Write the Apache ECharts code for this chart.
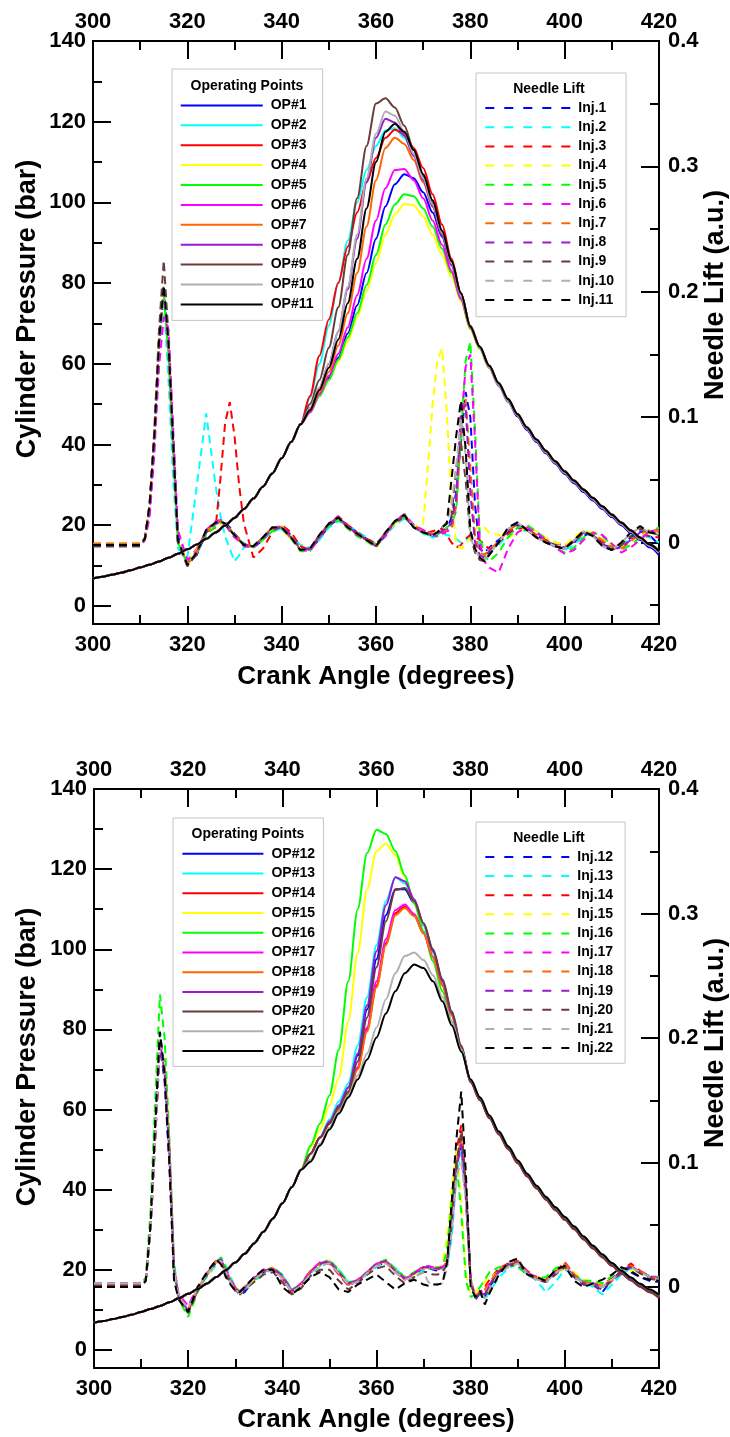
<!DOCTYPE html>
<html><head><meta charset="utf-8">
<script src="https://cdn.jsdelivr.net/npm/echarts@6/dist/echarts.min.js"></script>
<style>html,body{margin:0;padding:0;background:#fff}#c{width:730px;height:1437px}</style>
</head><body><div id="c"></div>
<script>
// ---------- axes / ticks ----------
const xTicks = [300, 320, 340, 360, 380, 400, 420];
const pressureTicks = [0, 20, 40, 60, 80, 100, 120, 140];
const pressureMinor = [10, 30, 50, 70, 90, 110, 130];
const needleTicks = [0, 0.1, 0.2, 0.3, 0.4];
const needleMinor = [-0.05, 0.05, 0.15, 0.25, 0.35];

// ---------- crank angle grids ----------
const crankP = [300,302,304,306,308,310,312,314,316,318,320,322,324,326,328,330,332,334,336,338,340,342,344,
  346,348,350,352,354,356,358,360,362,364,366,368,370,372,374,376,378,380,382,384,386,388,390,392,394,396,398,400,402,404,406,408,410,412,414,416,418,420];
const crankNL = [300,302,304,306,308,310,311,312,313,314,315,316,317,318,320,322,324,326,327,328,329,330,331,
  332,334,336,338,340,342,344,346,348,350,352,354,356,358,360,362,364,366,368,370,
  371,372,373,374,375,376,377,378,379,380,381,382,383,384,
  386,388,390,392,394,396,398,400,402,404,406,408,410,412,414,416,418,420];

// ---------- cylinder pressure (bar): shared compression 300..344 ----------
const compressionP = [6.8,7.2,7.7,8.2,8.8,9.5,10.2,11.0,11.9,12.9,14.0,15.2,16.6,18.2,19.9,21.8,24.0,26.6,29.5,32.8,36.6,40.6,45.0];

// per operating point, 346..420 (step 2)
const op1  = [48,52,56.5,61.5,67.5,74.5,82.5,91,99,104.5,107,106,102.5,97.5,91.5,84.5,77, 69,63.8,59,54.6,50.6,46.9,43.6,40.6,37.8,35.2,32.7,30.4,28.2,26.1,24,22,20,18.1,16.3,14.5,12.6];
const op2  = [51.5,60,69.5,80,90.5,100,108,114,117.8,118.4,116,112,106.5,100,92.5,84.5,76.5, 69,64,59.3,55,51,47.3,44,41,38.2,35.6,33.1,30.8,28.6,26.5,24.4,22.4,20.4,18.5,16.7,15,13.3];
const op3  = [52,62,71,80,89,97.5,105,111,116,118,117,113.5,108.5,102,94.5,86,77.5, 69.5,64.3,59.5,55.2,51.2,47.5,44.2,41.2,38.4,35.8,33.3,31,28.8,26.7,24.6,22.6,20.6,18.7,16.9,15.2,13.5];
const op4  = [48,52,56,60.5,65.5,71.5,78,85,92,97,99.6,99.3,96.5,92,87,81.5,75.5, 68.5,63.6,59,54.8,50.8,47.2,43.9,40.9,38.1,35.5,33,30.7,28.5,26.4,24.3,22.3,20.3,18.4,16.6,14.9,13.2];
const op5  = [48,52,56,61,66.5,72.5,79.5,87,94.5,99.5,102,101.5,98.5,94,88.5,82.5,76, 68.7,63.8,59.2,55,51,47.4,44.1,41.1,38.3,35.7,33.2,30.9,28.7,26.6,24.5,22.5,20.5,18.6,16.8,15.1,13.4];
const op6  = [48,52.5,57,62.5,69,77,86,95.5,103.5,108,108.3,105.5,101,95.5,89.5,83,76, 69,64,59.3,55,51,47.3,44,41,38.2,35.6,33.1,30.8,28.6,26.5,24.4,22.4,20.4,18.5,16.7,15,13.3];
const op7  = [48.5,53,58,64.5,72.5,82.5,94,105.5,113.5,116,114.5,110.5,105,99,92,84.5,77, 69,64,59.3,55,51,47.3,44,41,38.2,35.6,33.1,30.8,28.6,26.5,24.4,22.4,20.4,18.5,16.7,15,13.3];
const op8  = [49,54,60,68,78.5,91,105,116,120.7,119.8,116.5,111.5,105.5,99,92,84.5,77, 69,64,59.3,55,51,47.3,44,41,38.2,35.6,33.1,30.8,28.6,26.5,24.4,22.4,20.4,18.5,16.7,15,13.3];
const op9  = [50,56,64,74,87,101,114,124.5,125.8,123.5,119,113,106.5,100,93,85.5,77.5, 69.3,64.3,59.6,55.3,51.3,47.6,44.3,41.3,38.5,35.9,33.4,31.1,28.9,26.8,24.7,22.7,20.7,18.8,17,15.3,13.6];
const op10 = [49,54,60,68,79,92,106,117,122.5,121.5,117.5,112,106,99.5,92.5,85,77, 69,64,59.3,55,51,47.3,44,41,38.2,35.6,33.1,30.8,28.6,26.5,24.4,22.4,20.4,18.5,16.7,15,13.3];
const op11 = [48.5,53.5,59,66,75,86,98.5,110,117.5,119.4,117.5,113,107,100.5,93,85.5,77.5, 69.2,64.2,59.5,55.2,51.2,47.5,44.2,41.2,38.4,35.8,33.3,31,28.8,26.7,24.6,22.6,20.6,18.7,16.9,15.2,13.5];

const op12 = [49,53,57,61,65.5,73.5,85,97.5,108.5,115,115,111.5,106,99.5,92,84,75.5, 67,62.5,58,54,50.3,46.8,43.5,40.5,37.7,35.1,32.7,30.3,27.8,25.5,23.3,21.2,19.3,17.6,16,14.6,13.2];
const op13 = [49,53,57.5,62,66.5,76,88,101,112,118,116.5,112,106,99,91.5,83.5,75, 67,62.5,58,54,50.3,46.8,43.5,40.5,37.7,35.1,32.7,30.3,27.8,25.5,23.3,21.2,19.3,17.6,16,14.6,13.2];
const op14 = [49,53,56.5,60,64,70.5,80,91,101.5,109,110.7,108.5,104,98,91,83.5,75.5, 66.8,62.3,57.8,53.8,50.1,46.6,43.3,40.3,37.5,34.9,32.5,30.1,27.6,25.3,23.1,21,19.1,17.4,15.8,14.4,13];
const op15 = [50.5,55,61,68,82,99,115,124.5,126.4,123.5,118,111.5,104.5,97,89.5,82,74.5, 67.2,62.7,58.2,54.2,50.5,47,43.7,40.7,37.9,35.3,32.9,30.5,28,25.7,23.5,21.4,19.5,17.8,16.2,14.8,13.4];
const op16 = [51,56.5,63.5,75,92,110,124,129.8,128.8,124.5,118.5,111.5,104.5,97,89.5,82,74.5, 67.5,63,58.5,54.5,50.8,47.3,44,41,38.2,35.6,33.2,30.8,28.3,26,23.8,21.7,19.8,18.1,16.5,15.1,13.7];
const op17 = [49,53,56.5,60,64,70.5,80.5,92,102.5,109.8,111.2,108.8,104,98,91,83.5,75.5, 67,62.5,58,54,50.3,46.8,43.5,40.5,37.7,35.1,32.7,30.3,27.8,25.5,23.3,21.2,19.3,17.6,16,14.6,13.2];
const op18 = [49,53,56.5,60,64,70,79.5,90.5,101,108.5,110.3,108.3,104,98,91,83.5,75.5, 67,62.5,58,54,50.3,46.8,43.5,40.5,37.7,35.1,32.7,30.3,27.8,25.5,23.3,21.2,19.3,17.6,16,14.6,13.2];
const op19 = [49,53,57,61,65.5,74,86,99.5,111,118,117,112.5,106.5,99.5,92,84,75.5, 67,62.5,58,54,50.3,46.8,43.5,40.5,37.7,35.1,32.7,30.3,27.8,25.5,23.3,21.2,19.3,17.6,16,14.6,13.2];
const op20 = [49,53,56.5,60.5,64.5,72,83,95.5,107,114.8,115.3,112,106.5,100,92.5,84.5,76, 66.8,62.3,57.8,53.8,50.1,46.6,43.3,40.3,37.5,34.9,32.5,30.1,27.6,25.3,23.1,21,19.1,17.4,15.8,14.4,13];
const op21 = [47.5,51.5,55.5,59.5,63.5,68.5,74,80.5,87.5,94,98.3,99.2,97.3,93.5,88,81.8,75, 67.5,63,58.5,54.5,50.8,47.3,44,41,38.2,35.6,33.2,30.8,28.3,26,23.8,21.7,19.8,18.1,16.5,15.1,13.7];
const op22 = [47,51,55,59,63,67.5,72.5,78,84,89.5,94,96.2,95.3,92,87,81,74.5, 67.5,63,58.5,54.5,50.8,47.3,44,41,38.2,35.6,33.2,30.8,28.3,26,23.8,21.7,19.8,18.1,16.5,15.1,13.7];

// ---------- needle lift (milli a.u.), on crankNL ----------
const inj1  = [-3,-3,-3,-3,-3,-3, 2,25,80,155,200,165,85,5, -16,-10,8,15, 17,16,12,7,3, -1,-4,2,10,13,6,-4,-6,3,13,19,14,8,3,-2,5,15,21,14,9, 7,5,6,8,10,20,40,80,120,100,30,-5,-8,-4, 2,8,14,11,6,1,-2,-4,0,6,6,0,-5,-3,4,9,6,-2];
const inj2  = [-2,-2,-2,-2,-2,-2, 3,28,80,150,195,130,50,-5, -12,45,103,45, 22,5,-5,-15,-10, -4,-2,3,9,11,5,-2,-4,2,12,17,14,9,4,-1,6,14,19,13,7, 5,4,5,7,6,5,3,0,2,4,3,-1,-4,-6, -2,6,11,9,5,0,-3,-6,-2,5,7,1,-4,-2,3,6,4,0];
const inj3  = [-1,-1,-1,-1,-1,-1, 4,30,85,160,200,150,70,0, -15,-5,8,12, 50,95,112,85,45, 15,-12,-5,8,14,8,-3,-6,4,14,21,14,8,3,-1,7,16,20,14,9, 8,9,10,11,6,0,-4,-2,3,6,5,2,-2,-5, 0,7,12,10,6,2,0,-3,2,8,6,1,-3,-5,2,7,5,4];
const inj4  = [-2,-2,-2,-2,-2,-2, 2,28,82,158,200,155,75,2, -14,-6,9,14, 15,14,10,5,1, -2,-3,3,11,13,5,-5,-6,5,14,19,12,6,1,-4,6,15,21,13,15, 60,110,145,155,105,30,0,-5,-2,4,10,14,12,8, 6,4,8,12,9,4,0,-2,4,10,7,2,-2,-4,1,5,10,11];
const inj5  = [-1,-1,-1,-1,-1,-1, 3,30,85,158,198,150,72,0, -17,-9,6,13, 16,15,11,6,2, -1,-4,2,9,11,3,-7,-7,4,13,18,11,5,1,-4,7,16,20,12,8, 6,5,6,9,12,15,25,85,145,160,90,5,-10,-15, -8,4,12,14,9,3,-4,-8,-4,4,8,5,-2,-6,-2,4,8,12];
const inj6  = [-2,-2,-2,-2,-2,-2, 2,20,70,140,180,170,90,10, -14,-7,10,17, 18,15,9,4,1, -3,-4,4,12,13,5,-6,-7,4,15,21,13,6,2,-3,6,17,23,14,10, 8,6,5,7,9,10,30,90,140,150,80,0,-15,-20, -24,-5,8,12,8,2,-4,-9,-6,2,8,6,-1,-8,-4,2,9,10];
const inj7  = [-1,-1,-1,-1,-1,-1, 3,30,85,162,205,160,78,2, -17,-8,9,15, 17,15,11,7,3, -2,-3,4,12,12,3,-5,-5,6,15,20,12,7,2,-2,8,17,22,13,9, 8,7,7,9,10,12,30,90,115,60,5,-8,-10,-6, 1,9,15,11,5,1,-3,-4,1,7,7,2,-4,-5,1,7,10,9];
const inj8  = [-2,-2,-2,-2,-2,-2, 3,30,85,160,205,158,78,2, -18,-9,9,15, 16,14,10,6,2, -2,-3,3,11,12,5,-5,-5,5,14,20,13,7,2,-3,7,17,21,12,8, 7,6,7,9,12,15,35,105,110,40,0,-10,-12,-7, 0,10,15,10,4,0,-3,-5,1,8,6,-1,-5,-4,2,8,9,8];
const inj9  = [-3,-3,-3,-3,-3,-3, 3,30,90,170,225,165,80,0, -19,-9,10,16, 17,15,10,6,2, -2,-3,4,12,12,4,-6,-5,6,15,20,12,7,2,-3,8,17,22,12,8, 7,6,8,12,16,20,60,80,50,5,-8,-14,-15,-9, 0,11,16,10,4,0,-3,-5,1,9,5,-2,-6,-2,5,11,8,6];
const inj10 = [-2,-2,-2,-2,-2,-2, 3,30,85,160,205,160,80,2, -18,-8,10,16, 17,15,10,6,2, -2,-3,4,12,12,4,-6,-5,6,15,20,12,7,2,-3,8,17,23,13,8, 7,6,8,12,15,30,60,100,70,5,-6,-12,-14,-9, 0,11,16,10,4,0,-3,-5,2,9,5,-3,-6,0,7,12,8,7];
const inj11 = [-2,-2,-2,-2,-2,-2, 3,30,85,160,205,160,80,2, -18,-8,10,16, 17,15,10,6,2, -2,-3,4,12,12,4,-6,-5,6,15,20,12,7,2,-3,8,17,22,12,8, 7,6,8,12,15,50,85,113,75,10,-5,-12,-15,-10, 0,12,16,10,4,0,-3,-5,2,9,5,-3,-6,0,8,13,8,7];

const inj12 = [2,2,2,2,2,2, 5,45,120,195,165,100,10,-8, -18,-2,10,20, 22,12,4,-2,-6, -4,6,12,15,8,-4,2,12,18,20,12,2,4,11,17,20,14,6,10,14, 15,14,13,15,18,45,95,115,70,5,-10,-5,-8,0, 12,18,17,10,6,4,13,16,8,2,2,-4,6,14,12,8,5,4];
const inj13 = [2,2,2,2,2,2, 5,48,125,205,175,110,15,-8, -16,0,8,18, 23,17,8,0,-4, -2,4,11,14,10,-2,0,10,17,21,14,4,3,10,16,21,15,8,8,14, 15,15,14,15,17,40,90,110,75,8,-8,-6,-10,-4, 8,15,19,12,5,-4,4,14,10,4,0,-6,2,10,15,12,8,5];
const inj14 = [2,2,2,2,2,2, 6,50,125,200,170,110,12,-10, -20,-3,11,22, 20,10,3,-3,-5, 0,7,13,15,7,-4,3,13,19,19,10,1,5,12,18,21,13,6,11,16, 16,15,14,16,22,60,110,130,80,5,-8,-4,0,6, 15,19,21,13,8,6,12,20,10,4,4,2,7,12,19,13,8,6];
const inj15 = [2,2,2,2,2,2, 5,45,120,200,170,105,12,-8, -17,-1,9,19, 21,13,5,0,-3, -1,6,14,16,9,-3,1,11,18,22,13,3,4,11,18,22,14,7,10,15, 16,15,15,18,40,80,110,70,10,-6,-4,0,4,8, 12,17,19,12,8,6,10,15,12,6,4,2,6,11,13,12,8,5];
const inj16 = [2,2,2,2,2,2, 8,60,150,235,200,120,20,-10, -24,-4,10,20, 24,16,6,0,-4, -2,5,12,16,10,-2,2,12,19,22,14,4,5,12,19,22,15,8,12,16, 16,16,16,16,30,70,100,60,5,-8,-6,0,6,12, 16,18,16,10,7,8,15,18,10,5,5,3,9,14,16,12,9,8];
const inj17 = [3,3,3,3,3,3, 5,45,118,195,175,110,15,-6, -15,0,12,21, 22,14,6,0,-3, 0,8,14,15,8,-3,3,13,20,20,11,2,6,12,19,20,12,6,11,17, 17,16,15,16,20,50,100,120,75,5,-8,-3,-6,2, 12,17,20,13,7,5,11,18,9,4,2,0,5,11,16,13,9,7];
const inj18 = [2,2,2,2,2,2, 6,48,122,200,178,115,15,-8, -18,-1,10,21, 21,12,5,-1,-4, 0,7,13,15,8,-4,2,13,19,20,11,2,5,12,18,21,13,7,11,16, 16,15,15,16,20,55,100,120,75,6,-7,-4,-2,4, 14,18,20,12,7,5,12,19,10,4,3,1,6,12,17,13,8,6];
const inj19 = [3,3,3,3,3,3, 5,46,120,198,172,108,12,-8, -19,-2,11,21, 22,13,4,-1,-5, -1,7,13,15,9,-3,2,12,19,21,12,3,5,12,19,21,13,7,11,16, 16,15,15,16,19,50,95,115,72,4,-9,-5,-6,2, 13,18,20,12,7,5,12,17,9,3,3,0,6,13,17,12,8,6];
const inj20 = [1,1,1,1,1,1, 6,50,128,205,172,105,10,-10, -21,-3,10,20, 20,10,3,-3,-6, -2,4,10,12,4,-6,-1,9,14,14,5,-2,3,10,15,17,9,3,8,12, 12,10,10,12,18,55,100,125,80,5,-9,-5,-8,0, 12,16,20,11,6,4,10,16,8,2,1,-2,5,12,16,11,7,5];
const inj21 = [3,3,3,3,3,3, 5,45,120,200,172,108,12,-8, -17,-1,10,20, 21,12,4,-2,-5, -2,6,12,14,7,-4,1,11,17,19,11,2,4,11,17,19,12,6,8,12, 4,2,2,3,15,45,90,100,70,5,-8,-5,-9,-2, 11,16,19,11,6,4,11,16,8,3,2,0,6,12,16,12,8,6];
const inj22 = [0,0,0,0,0,0, 5,50,130,205,170,100,5,-10, -20,0,12,22, 18,8,2,-3,-4, 0,8,14,14,0,-6,0,8,12,8,-2,-4,2,6,10,4,-2,3,6,2, 1,2,2,3,20,70,120,157,90,0,-8,-3,-14,-5, 10,20,23,10,8,5,14,17,5,0,3,6,10,16,13,8,6,5];

const colors = ['#0000ff','#00ffff','#ff0000','#ffff00','#00ff00','#ff00ff','#ff6600','#9b19d1','#6b3c3c','#b0b0b0','#000000'];

const topOP = [op1,op2,op3,op4,op5,op6,op7,op8,op9,op10,op11];
const botOP = [op12,op13,op14,op15,op16,op17,op18,op19,op20,op21,op22];
const topInj = [inj1,inj2,inj3,inj4,inj5,inj6,inj7,inj8,inj9,inj10,inj11];
const botInj = [inj12,inj13,inj14,inj15,inj16,inj17,inj18,inj19,inj20,inj21,inj22];

// sanity check
[...topOP, ...botOP].forEach((a, i) => { if (compressionP.length + a.length !== crankP.length) throw new Error('op len ' + i + ' ' + a.length); });
[...topInj, ...botInj].forEach((a, i) => { if (a.length !== crankNL.length) throw new Error('inj len ' + i + ' ' + a.length); });

const FONT = '"Liberation Sans", Arial, Helvetica, sans-serif';
const grids = [
  { left: 93, top: 41, width: 566, height: 583 },
  { left: 94, top: 789, width: 565, height: 579 }
];

const xAxes = [], yAxes = [], series = [], legends = [], graphics = [];
const axisLine = { show: true, onZero: false, lineStyle: { color: '#000', width: 2 } };
const lbl = { color: '#000', fontSize: 22, fontWeight: 'bold', fontFamily: FONT };

grids.forEach((g, gi) => {
  ['bottom', 'top'].forEach(pos => {
    xAxes.push({
      gridIndex: gi, type: 'value', position: pos, min: 300, max: 420, interval: 20,
      axisLine, splitLine: { show: false },
      axisTick: { show: true, inside: true, length: 18, lineStyle: { color: '#000', width: 2 } },
      minorTick: { show: true, splitNumber: 2, length: 9, lineStyle: { color: '#000', width: 2 } },
      minorSplitLine: { show: false },
      axisLabel: Object.assign({ margin: pos === 'top' ? 8 : 10 }, lbl)
    });
  });
  // left pressure
  yAxes.push({
    gridIndex: gi, type: 'value', position: 'left', min: -4.5, max: 140,
    axisLine, splitLine: { show: false },
    axisTick: { show: true, inside: true, length: 18, customValues: pressureTicks, lineStyle: { color: '#000', width: 2 } },
    axisLabel: Object.assign({ margin: 7, customValues: pressureTicks }, lbl)
  });
  // right needle lift
  yAxes.push({
    gridIndex: gi, type: 'value', position: 'right', min: -0.065, max: 0.4,
    axisLine, splitLine: { show: false },
    axisTick: { show: true, inside: true, length: 18, customValues: needleTicks, lineStyle: { color: '#000', width: 2 } },
    axisLabel: Object.assign({ margin: 9, customValues: needleTicks, formatter: v => String(+v.toFixed(2)) }, lbl)
  });
  // minor tick helper axes
  yAxes.push({
    gridIndex: gi, type: 'value', position: 'left', min: -4.5, max: 140,
    axisLine: { show: false, onZero: false }, splitLine: { show: false }, axisLabel: { show: false },
    axisTick: { show: true, inside: true, length: 9, customValues: pressureMinor, lineStyle: { color: '#000', width: 2 } }
  });
  yAxes.push({
    gridIndex: gi, type: 'value', position: 'right', min: -0.065, max: 0.4,
    axisLine: { show: false, onZero: false }, splitLine: { show: false }, axisLabel: { show: false },
    axisTick: { show: true, inside: true, length: 9, customValues: needleMinor, lineStyle: { color: '#000', width: 2 } }
  });

  const ops = gi === 0 ? topOP : botOP;
  const injs = gi === 0 ? topInj : botInj;
  const base = gi === 0 ? 1 : 12;
  const opNames = [], injNames = [];
  injs.forEach((arr, i) => {
    const name = 'Inj.' + (base + i);
    injNames.push(name);
    series.push({
      name, type: 'line', xAxisIndex: gi * 2, yAxisIndex: gi * 4 + 1,
      data: crankNL.map((x, k) => [x, arr[k] / 1000]),
      symbol: 'none', animation: false, silent: true,
      lineStyle: { color: colors[i], width: 2, type: [8, 5] }, itemStyle: { color: colors[i] }
    });
  });
  ops.forEach((arr, i) => {
    const name = 'OP#' + (base + i);
    opNames.push(name);
    const vals = compressionP.concat(arr);
    series.push({
      name, type: 'line', xAxisIndex: gi * 2, yAxisIndex: gi * 4,
      data: crankP.map((x, k) => [x, vals[k]]),
      symbol: 'none', animation: false, silent: true, smooth: 0.3, smoothMonotone: 'x',
      lineStyle: { color: colors[i], width: 2 }, itemStyle: { color: colors[i] }
    });
  });

  const L = gi === 0
    ? { op: { left: 172, top: 69, gap: 5.9, pad: [29.4, 8.4, 9, 7.7], title: [247, 86], iw: 82 },
        nl: { left: 476, top: 73, gap: 5.2, pad: [28, 12, 9.7, 8.3], title: [549, 89], iw: 85 } }
    : { op: { left: 173, top: 818, gap: 5.74, pad: [28.7, 8.4, 8.3, 8.4], title: [248, 834], iw: 81 },
        nl: { left: 476, top: 822, gap: 5.1, pad: [28, 12, 8.3, 8.3], title: [549, 838], iw: 84 } };
  const legendText = { color: '#000', fontSize: 14, fontWeight: 'bold', fontFamily: FONT, padding: [0, 0, 0, 3] };
  const hiddenSymbol = { opacity: 0, borderWidth: 0, color: 'rgba(0,0,0,0)' };
  legends.push({
    data: opNames, orient: 'vertical', left: L.op.left, top: L.op.top, itemWidth: L.op.iw, itemHeight: 14,
    itemGap: L.op.gap, padding: L.op.pad, borderColor: '#c4c4c4', borderWidth: 1, backgroundColor: '#fff',
    selectedMode: false, textStyle: legendText, itemStyle: hiddenSymbol, lineStyle: { width: 2 }
  });
  legends.push({
    data: injNames, orient: 'vertical', left: L.nl.left, top: L.nl.top, itemWidth: L.nl.iw, itemHeight: 14,
    itemGap: L.nl.gap, padding: L.nl.pad, borderColor: '#c4c4c4', borderWidth: 1, backgroundColor: '#fff',
    selectedMode: false, textStyle: legendText, itemStyle: hiddenSymbol, lineStyle: { width: 2, type: [9, 10] }
  });
  graphics.push({ type: 'text', x: L.op.title[0], y: L.op.title[1], z: 100,
    style: { text: 'Operating Points', font: 'bold 14px ' + FONT, fill: '#000', align: 'center', verticalAlign: 'middle' } });
  graphics.push({ type: 'text', x: L.nl.title[0], y: L.nl.title[1], z: 100,
    style: { text: 'Needle Lift', font: 'bold 14px ' + FONT, fill: '#000', align: 'center', verticalAlign: 'middle' } });

  const dy = gi === 0 ? 0 : 748;
  graphics.push({ type: 'text', x: 28, y: 309 + dy, rotation: Math.PI / 2,
    style: { text: 'Cylinder Pressure (bar)', font: 'bold 27px ' + FONT, fill: '#000', align: 'center', verticalAlign: 'middle' } });
  graphics.push({ type: 'text', x: 716, y: 295 + dy, rotation: Math.PI / 2,
    style: { text: 'Needle Lift (a.u.)', font: 'bold 27px ' + FONT, fill: '#000', align: 'center', verticalAlign: 'middle' } });
  graphics.push({ type: 'text', x: 376, y: (gi === 0 ? 677 : 1420),
    style: { text: 'Crank Angle (degrees)', font: 'bold 26px ' + FONT, fill: '#000', align: 'center', verticalAlign: 'middle' } });
});

const chart = echarts.init(document.getElementById('c'), null, { renderer: 'canvas' });
chart.setOption({
  animation: false,
  backgroundColor: '#fff',
  grid: grids,
  xAxis: xAxes,
  yAxis: yAxes,
  legend: legends,
  series,
  graphic: graphics
});
</script>
</body></html>
